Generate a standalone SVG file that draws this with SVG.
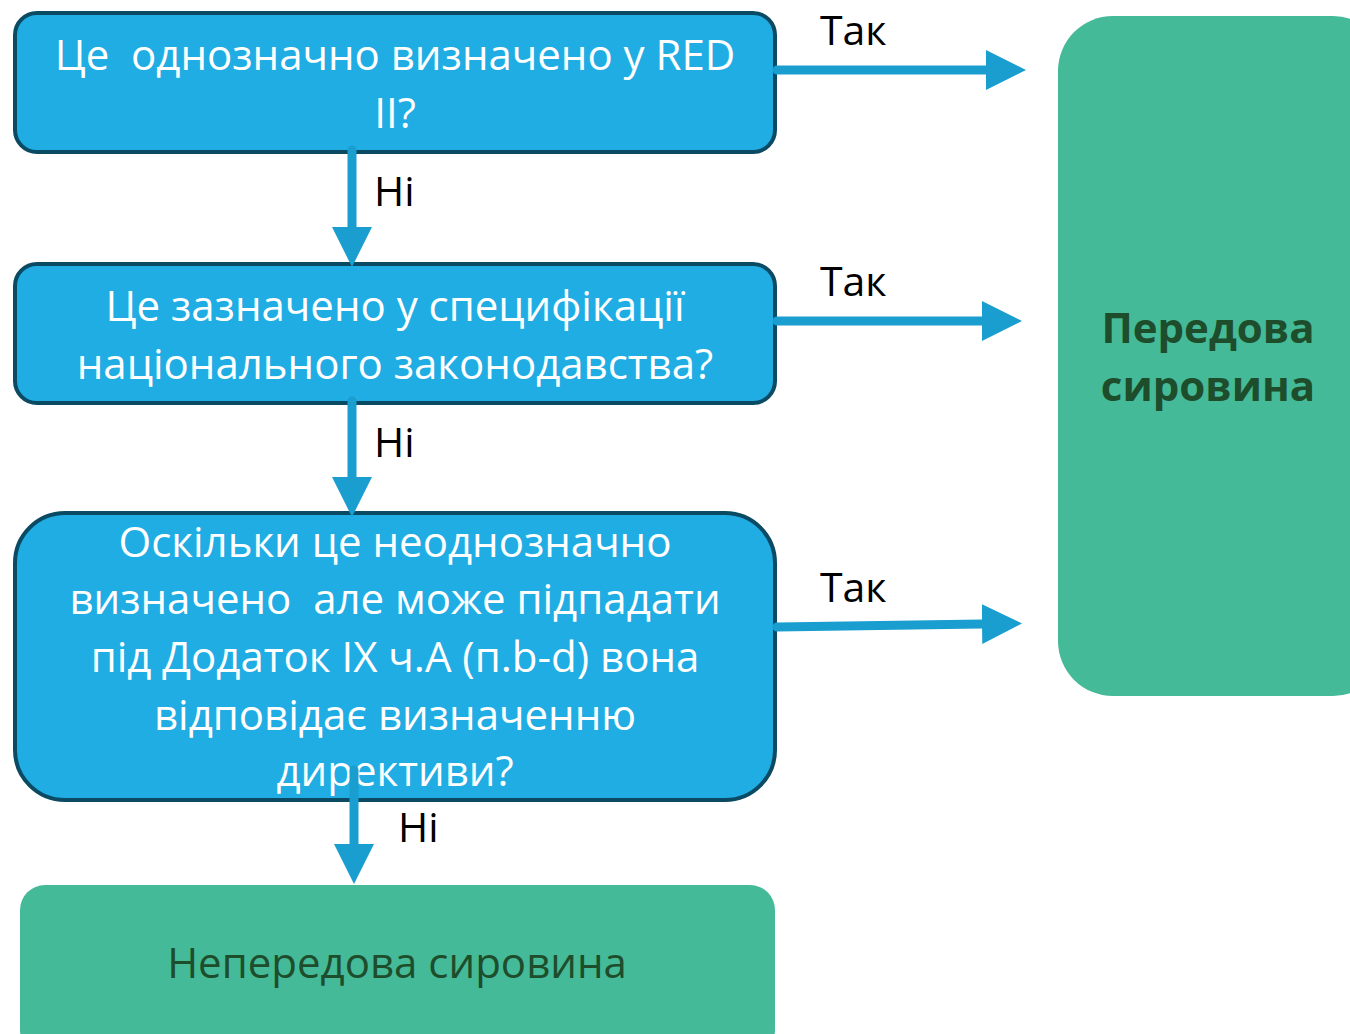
<svg xmlns="http://www.w3.org/2000/svg" width="1350" height="1034" viewBox="0 0 1350 1034">
<defs>
<style>
.q{fill:#1FADE4;stroke:#0B4A63;stroke-width:4}
.g{fill:#44BA98}
.t{font-family:"Open Sans","Noto Sans",sans-serif;font-size:42px;fill:#FFFFFF;text-anchor:middle;white-space:pre}
.d{font-family:"Open Sans","Noto Sans",sans-serif;font-size:42px;fill:#1E4D2B;text-anchor:middle}
.l{font-family:"Open Sans","Noto Sans",sans-serif;font-size:41px;fill:#000000}
.c{stroke:#1A9ECF;stroke-width:9;fill:none;stroke-linecap:round}
</style>
<marker id="ah" markerUnits="userSpaceOnUse" markerWidth="40" markerHeight="40" viewBox="0 0 36 36" refX="0" refY="18" orient="auto">
<path d="M0,0 L36,18 L0,36 Z" fill="#1A9ECF"/>
</marker>
</defs>
<rect width="1350" height="1034" fill="#FFFFFF"/>
<g id="n1">
<rect class="q" x="15" y="13" width="760" height="139" rx="22"/>
<text class="t" x="395" y="70" xml:space="preserve">Це  однозначно визначено у RED</text>
<text class="t" x="395" y="128">II?</text>
</g>
<g id="n2">
<rect class="q" x="15" y="264" width="760" height="139" rx="22"/>
<text class="t" x="395" y="321">Це зазначено у специфікації</text>
<text class="t" x="395" y="379">національного законодавства?</text>
</g>
<g id="n3">
<rect class="q" x="15" y="513" width="760" height="287" rx="50"/>
<text class="t" x="395" y="557">Оскільки це неоднозначно</text>
<text class="t" x="395" y="614" xml:space="preserve">визначено  але може підпадати</text>
<text class="t" x="395" y="672">під Додаток IX ч.А (п.b-d) вона</text>
<text class="t" x="395" y="730">відповідає визначенню</text>
<text class="t" x="395" y="786">директиви?</text>
</g>
<g id="n4">
<rect class="g" x="20" y="885" width="755" height="170" rx="25"/>
<text class="d" x="397" y="978">Непередова сировина</text>
</g>
<g id="n5">
<rect class="g" x="1058" y="16" width="330" height="680" rx="55"/>
<text class="d" x="1208" y="343" font-weight="bold">Передова</text>
<text class="d" x="1208" y="401" font-weight="bold">сировина</text>
</g>
<g id="connectors">
<line class="c" x1="352" y1="150" x2="352" y2="227" marker-end="url(#ah)"/>
<line class="c" x1="352" y1="401" x2="352" y2="477" marker-end="url(#ah)"/>
<line class="c" x1="354" y1="770" x2="354" y2="844" marker-end="url(#ah)"/>
<line class="c" x1="777" y1="70" x2="986" y2="70" marker-end="url(#ah)"/>
<line class="c" x1="777" y1="321" x2="982" y2="321" marker-end="url(#ah)"/>
<line class="c" x1="777" y1="627" x2="982" y2="624" marker-end="url(#ah)"/>
<text class="l" x="374" y="206">Ні</text>
<text class="l" x="374" y="457">Ні</text>
<text class="l" x="398" y="842">Ні</text>
<text class="l" x="820" y="45">Так</text>
<text class="l" x="820" y="296">Так</text>
<text class="l" x="820" y="602">Так</text>
</g>
</svg>
